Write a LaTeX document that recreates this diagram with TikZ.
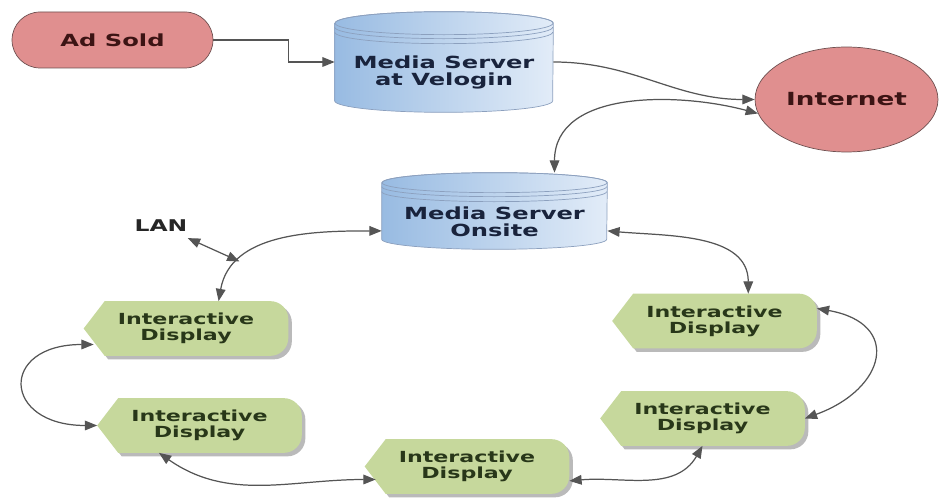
\documentclass[tikz,border=0pt]{standalone}
\usepackage{fontspec}
\usepackage{tikz}
\usetikzlibrary{shapes.geometric,shapes.misc,arrows.meta,backgrounds,shadows}

\newfontfamily\dfont[FakeStretch=1.45]{DejaVu Sans Bold}

\definecolor{ovalpink}{RGB}{224,143,143}
\definecolor{ovalline}{RGB}{110,80,80}
\definecolor{ovaltext}{RGB}{60,20,20}
\definecolor{cylleft}{RGB}{152,187,226}
\definecolor{cylright}{RGB}{226,236,248}
\definecolor{cylline}{RGB}{140,160,190}
\definecolor{cyltext}{RGB}{25,35,60}
\definecolor{dispgreen}{RGB}{198,216,156}
\definecolor{disptext}{RGB}{40,55,25}
\definecolor{linkgray}{RGB}{85,85,85}

\begin{document}
\begin{tikzpicture}
		[x=0.02cm, y=0.02cm,
		 oval/.style={draw=ovalline, fill=ovalpink, text=ovaltext, inner sep=0pt},
		 cyl/.style={inner sep=0pt, align=center, text=cyltext, text height=29pt, font=\dfont\fontsize{9.5}{9.8}\selectfont},
		 disp/.style={minimum width=4.08cm, minimum height=1.08cm, inner sep=0pt, align=center, text=disptext, font=\dfont\fontsize{8.7}{9.2}\selectfont},
		 link/.style={draw=linkgray, line width=0.7pt},
		 onearrow/.style={link, -{Triangle[length=7pt,width=5.5pt]}},
		 twoarrow/.style={link, {Triangle[length=7pt,width=5.5pt]}-{Triangle[length=7pt,width=5.5pt]}}]

		\useasboundingbox (0,0) rectangle (940,-499);

		\node[oval, rounded rectangle, minimum width=4.02cm, minimum height=1.12cm, font=\dfont\fontsize{9.5}{10}\selectfont] (ad) at (112.5,-40) {Ad Sold};

		\node[cyl, minimum width=4.36cm, minimum height=2cm] (vel) at (444,-62) {Media Server\\at Velogin};

		\node[oval, ellipse, minimum width=3.66cm, minimum height=2.1cm, font=\dfont\fontsize{10.3}{11}\selectfont] (int) at (846.5,-99.5) {Internet};

		\node[cyl, minimum width=4.5cm, minimum height=1.52cm] (ons) at (494.5,-211) {Media Server\\Onsite};

		\node[text=black!85, font=\dfont\fontsize{9.2}{10}\selectfont] (lan) at (161,-226) {LAN};

		\node[disp] (d1) at (186,-328.5) {Interactive\\Display};
		\node[disp] (d2) at (199.5,-425.5) {Interactive\\Display};
		\node[disp] (d3) at (467,-466.5) {Interactive\\Display};
		\node[disp] (d4) at (702.5,-418.5) {Interactive\\Display};
		\node[disp] (d5) at (714.5,-321) {Interactive\\Display};

		\draw[onearrow] (ad.east) -- ++(75,0) |- (vel.west);
		\draw[onearrow] (vel.east) to[out=0,in=180] (int.west);
		\draw[twoarrow] ([shift={(60,0)}]ons.north) to[out=90,in=165] (int.189);
		\draw[twoarrow] (d1.40) to[out=80,in=180] coordinate[pos=0.25] (lanj) (ons.190);
		\draw[twoarrow] (lan) -- (lanj);
		\draw[twoarrow] (ons.-10) to[out=-5,in=90] (d5.39);
		\draw[twoarrow] (d5.7) to[out=-10,in=20,looseness=2] (d4.east);
		\draw[twoarrow] ([shift={(10,-16)}]d1.west) to[out=180,in=180,looseness=3] (d2.west);
		\draw[twoarrow] (d2.214) to[out=-35,in=180] ([shift={(11,-13)}]d3.west);
		\draw[twoarrow] (d3.-8) to[out=5,in=-120] (d4.south);

		\begin{pgfonlayer}{background}
			\foreach \cname/\rx/\ry in {vel/109/11.5, ons/112.5/10}{
				\shade[left color=cylleft, right color=cylright, draw=cylline]
					([shift={(0,-\ry)}]\cname.north west) -- ([shift={(0,\ry)}]\cname.south west)
					arc[start angle=180, end angle=360, x radius=\rx, y radius=\ry]
					-- ([shift={(0,-\ry)}]\cname.north east)
					arc[start angle=0, end angle=180, x radius=\rx, y radius=\ry] -- cycle;
				\draw[cylline] ([shift={(0,-\ry)}]\cname.north) ellipse [x radius=\rx, y radius=\ry];
				\draw[cylline] ([shift={(0,-\ry-4)}]\cname.north west) arc[start angle=180, end angle=360, x radius=\rx, y radius=\ry];
				\draw[cylline] ([shift={(0,-\ry-9)}]\cname.north west) arc[start angle=180, end angle=360, x radius=\rx, y radius=\ry];
			}
			\foreach \dname in {d1,d2,d3,d4,d5}
				\fill[dispgreen, drop shadow={shadow xshift=2pt, shadow yshift=-2pt, opacity=0.45, fill=black!60}]
					(\dname.west) -- ([shift={(21,0)}]\dname.north west) -- ([shift={(-18,0)}]\dname.north east)
					arc[start angle=90, end angle=0, radius=18] -- ([shift={(0,18)}]\dname.south east)
					arc[start angle=0, end angle=-90, radius=18] -- ([shift={(21,0)}]\dname.south west) -- cycle;
		\end{pgfonlayer}

	\end{tikzpicture}
\end{document}
